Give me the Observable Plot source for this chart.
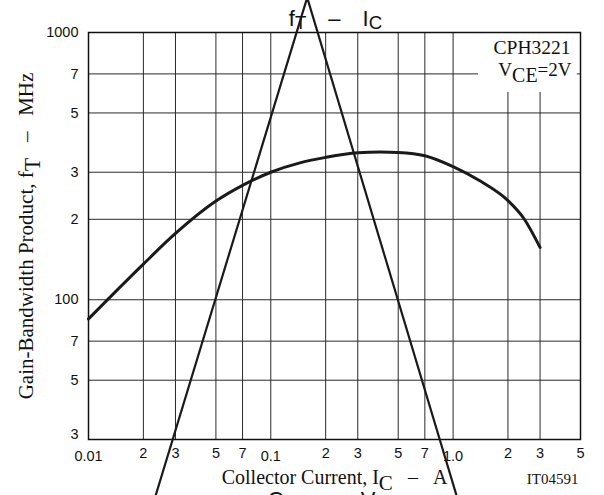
<!DOCTYPE html>
<html>
<head>
<meta charset="utf-8">
<script src="https://cdn.jsdelivr.net/npm/d3@7"></script>
<script src="https://cdn.jsdelivr.net/npm/@observablehq/plot@0.6"></script>
<style>
html, body { margin: 0; padding: 0; background: #fff; }
svg { display: block; }
</style>
</head>
<body>
<div id="chart"></div>
<script>
// ---- data ----
const collectorCurrent = [0.01, 0.02, 0.03, 0.05, 0.07, 0.1, 0.146, 0.2, 0.3, 0.4, 0.5, 0.7, 1.0, 1.41, 2.0, 2.45, 3.0];
const gainBandwidth   = [84.8, 136, 177, 234, 268, 300, 326, 341, 355, 357.5, 356, 346, 315, 278, 235, 201, 157];

const xDecadeTicks  = [0.01, 0.1, 1.0];
const xDecadeLabels = ["0.01", "0.1", "1.0"];
const xMinorTicks   = [0.02, 0.03, 0.05, 0.07, 0.2, 0.3, 0.5, 0.7, 2, 3, 5];
const xMinorLabels  = ["2", "3", "5", "7", "2", "3", "5", "7", "2", "3", "5"];
const yTicks        = [30, 50, 70, 100, 200, 300, 500, 700, 1000];
const yTickLabels   = ["3", "5", "7", "100", "2", "3", "5", "7", "1000"];
const xGrid = [0.02, 0.03, 0.05, 0.07, 0.1, 0.2, 0.3, 0.5, 0.7, 1, 2, 3];
const yGrid = [50, 70, 100, 200, 300, 500, 700];

// stray "Λ" stroke crossing the sheet (in chart units)
const strayX = [0.02334, 0.1584, 1.045];
const strayY = [18.5, 1351, 18.5];

// white label box behind the part annotation
const boxX = [1.38, 4.8];
const boxY = [597, 1000];

const titleText = "f{T}\u2003\u2013\u2003I{C}";
const nextTitleText = "C{ob}\u2003\u2013\u2003V{CB}";
const xLabel = "Collector Current, I[C]\u2002\u00a0\u2013\u2002\u00a0A";
const yLabel = "Gain-Bandwidth Product, f[T]\u2002\u00a0\u2013\u2002\u00a0MHz";
const partLabel = "CPH3221";
const condLabel = "V[CE]=2V";
const figId = "IT04591";

// ---- tables ----
const curve = collectorCurrent.map((x, i) => ({x, y: gainBandwidth[i]}));
const stray = strayX.map((x, i) => ({x, y: strayY[i]}));
const decadeTable = xDecadeTicks.map((v, i) => ({v, label: xDecadeLabels[i]}));
const minorTable = xMinorTicks.map((v, i) => ({v, label: xMinorLabels[i]}));
const yTable = yTicks.map((v, i) => ({v, label: yTickLabels[i]}));

const sans = "'Liberation Sans', Arial, Helvetica, sans-serif";
const serif = "'Liberation Serif', 'Times New Roman', Times, serif";

const chart = Plot.plot({
  width: 604,
  height: 495,
  marginLeft: 88,
  marginRight: 24,
  marginTop: 32,
  marginBottom: 56,
  style: {background: "#fff", color: "#111"},
  x: {type: "log", domain: [0.01, 5], axis: null},
  y: {type: "log", domain: [30, 1000], axis: null},
  marks: [
    Plot.ruleX(xGrid, {stroke: "#2a2a2a", strokeWidth: 1}),
    Plot.ruleY(yGrid, {stroke: "#2a2a2a", strokeWidth: 1}),
    Plot.rect([0], {x1: () => boxX[0], x2: () => boxX[1], y1: () => boxY[0], y2: () => boxY[1], fill: "#fff"}),
    Plot.frame({stroke: "#111", strokeWidth: 1.5}),
    Plot.line(curve, {x: "x", y: "y", curve: "monotone-x", stroke: "#1a1a1a", strokeWidth: 3}),
    // y tick labels
    Plot.text(yTable.filter(d => d.v !== 30), {y: "v", text: "label", frameAnchor: "left", textAnchor: "end", dx: -10, fontSize: 14.5, fontFamily: sans, fill: "#111"}),
    Plot.text(yTable.filter(d => d.v === 30), {y: "v", text: "label", frameAnchor: "left", textAnchor: "end", dx: -10, dy: -5, fontSize: 14.5, fontFamily: sans, fill: "#111"}),
    // x tick labels
    Plot.text(minorTable, {x: "v", text: "label", frameAnchor: "bottom", lineAnchor: "top", dy: 8, fontSize: 14.5, fontFamily: sans, fill: "#111"}),
    Plot.text(decadeTable, {x: "v", text: "label", frameAnchor: "bottom", lineAnchor: "top", dy: 11.5, fontSize: 14.5, fontFamily: sans, fill: "#111"}),
    // titles and labels
    Plot.text([titleText], {frameAnchor: "top", lineAnchor: "bottom", dy: -7, dx: 1, fontSize: 22, fontFamily: sans, fill: "#111"}),
    Plot.text([nextTitleText], {frameAnchor: "bottom", lineAnchor: "bottom", dy: 67, fontSize: 22, fontFamily: sans, fill: "#111"}),
    Plot.text([xLabel], {frameAnchor: "bottom", lineAnchor: "bottom", dy: 44, fontSize: 20, fontFamily: serif, fill: "#111"}),
    Plot.text([yLabel], {frameAnchor: "left", textAnchor: "middle", rotate: -90, dx: -62, fontSize: 21, fontFamily: serif, fill: "#111"}),
    Plot.text([figId], {frameAnchor: "bottom-right", textAnchor: "end", lineAnchor: "bottom", dx: -2, dy: 44, fontSize: 15, fontFamily: serif, fill: "#111"}),
    Plot.text([partLabel], {frameAnchor: "top-right", textAnchor: "end", lineAnchor: "bottom", dx: -10, dy: 21.3, fontSize: 19.5, fontFamily: serif, fill: "#111"}),
    Plot.text([condLabel], {frameAnchor: "top-right", textAnchor: "end", lineAnchor: "bottom", dx: -9, dy: 43, fontSize: 19, fontFamily: serif, fill: "#111"}),
    // stray stroke
    Plot.line(stray, {x: "x", y: "y", stroke: "#1a1a1a", strokeWidth: 2.2})
  ]
});

document.getElementById("chart").appendChild(chart);

// subscripts: {..} small subscript, [..] serif-style subscript
function applySubscripts(svg) {
  const NS = "http://www.w3.org/2000/svg";
  svg.querySelectorAll("text").forEach(t => {
    const s = t.textContent;
    if (!/[\{\[]/.test(s)) return;
    const fs = parseFloat(getComputedStyle(t).fontSize) || 16;
    const parts = s.split(/(\{[^}]*\}|\[[^\]]*\])/);
    t.textContent = "";
    let shift = 0;
    for (const p of parts) {
      if (!p) continue;
      const ts = document.createElementNS(NS, "tspan");
      let target = 0;
      if (p[0] === "{") {
        ts.textContent = p.slice(1, -1);
        ts.setAttribute("font-size", (fs * 0.85) + "px");
        target = fs * 0.16;
      } else if (p[0] === "[") {
        ts.textContent = p.slice(1, -1);
        ts.setAttribute("font-size", (fs * 1.05) + "px");
        target = fs * 0.32;
      } else {
        ts.textContent = p;
      }
      const d = target - shift;
      if (d) ts.setAttribute("dy", d);
      shift = target;
      t.appendChild(ts);
    }
  });
}
applySubscripts(chart);
</script>
</body>
</html>
